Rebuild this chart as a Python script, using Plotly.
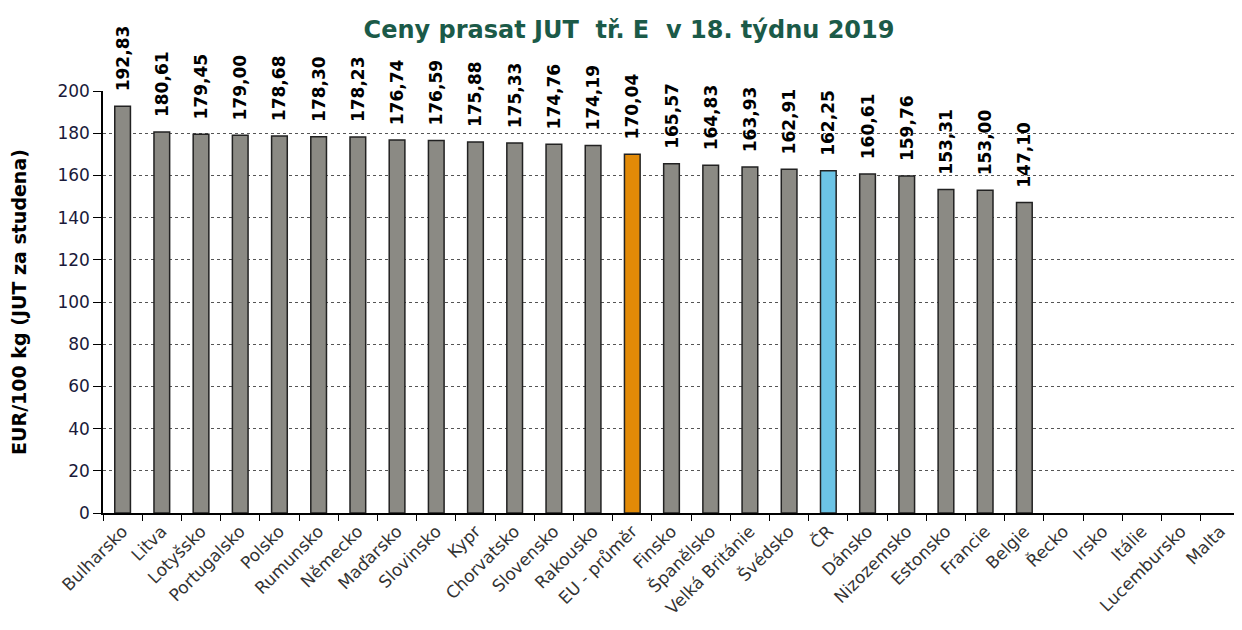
import plotly.graph_objects as go

categories = ["Bulharsko", "Litva", "Lotyšsko", "Portugalsko", "Polsko", "Rumunsko", "Německo",
              "Maďarsko", "Slovinsko", "Kypr", "Chorvatsko", "Slovensko", "Rakousko", "EU - průměr",
              "Finsko", "Španělsko", "Velká Británie", "Švédsko", "ČR", "Dánsko", "Nizozemsko",
              "Estonsko", "Francie", "Belgie", "Řecko", "Irsko", "Itálie", "Lucembursko", "Malta"]
values = [192.83, 180.61, 179.45, 179.00, 178.68, 178.30, 178.23, 176.74, 176.59, 175.88, 175.33,
          174.76, 174.19, 170.04, 165.57, 164.83, 163.93, 162.91, 162.25, 160.61, 159.76, 153.31,
          153.00, 147.10, None, None, None, None, None]

GRAY = "#8b8a84"
colors = ["#e28a07" if c == "EU - průměr" else "#6cc4e6" if c == "ČR" else GRAY for c in categories]
labels = ["" if v is None else "\u00a0\u00a0" + f"{v:.2f}".replace(".", ",") for v in values]

fig = go.Figure(go.Bar(
    x=categories, y=values, marker=dict(color=colors, line=dict(color="#222222", width=1.5)),
    text=labels, textposition="outside", textangle=-90, cliponaxis=False,
    constraintext="none",
    textfont=dict(family="DejaVu Sans", size=17, color="#000000", weight="bold"),
))

fig.update_layout(
    width=1242, height=630,
    margin=dict(l=95, r=10, t=83, b=125, autoexpand=False),
    paper_bgcolor="white", plot_bgcolor="white",
    bargap=0.6, showlegend=False,
    title=dict(text="<b>Ceny prasat JUT  tř. E  v 18. týdnu 2019</b>", x=0.5, xanchor="center",
               y=0.965, yanchor="middle", automargin=False,
               font=dict(family="DejaVu Sans", size=24, color="#1b5a48")),
    font=dict(family="DejaVu Sans", size=13, color="#222222"),
)
fig.update_xaxes(
    tickangle=-45, tickson="boundaries", ticks="outside", ticklen=6, tickcolor="#000",
    showline=True, linecolor="#000", linewidth=1.5, showgrid=False, automargin=False,
    tickfont=dict(family="DejaVu Sans", size=17, color="#333333"),
)
fig.update_yaxes(
    range=[0, 200], dtick=20, ticks="outside", ticklen=8, tickcolor="#000",
    showline=True, linecolor="#000", linewidth=1.5, automargin=False,
    showgrid=True, gridcolor="#555555", griddash="dot", gridwidth=1,
    tickfont=dict(family="DejaVu Sans", size=17, color="#1a1a3a"),
    title=dict(text="<b>EUR/100 kg (JUT za studena)</b>", standoff=30,
               font=dict(family="DejaVu Sans", size=19, color="#000")),
    zeroline=False,
)
fig.write_html("out.html")
